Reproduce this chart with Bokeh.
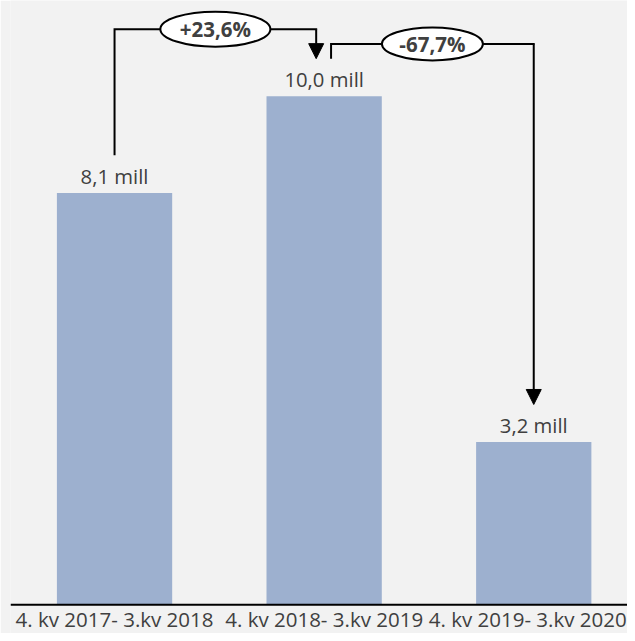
from bokeh.plotting import figure
from bokeh.models import Range1d, Arrow, NormalHead, Span
from bokeh.core.properties import value
from bokeh.embed import file_html
from bokeh.resources import INLINE

# ---- data ----
categories = ["4. kv 2017- 3.kv 2018", "4. kv 2018- 3.kv 2019", "4. kv 2019- 3.kv 2020"]
values = [8.1, 10.0, 3.2]
value_labels = ["8,1 mill", "10,0 mill", "3,2 mill"]
change_labels = ["+23,6%", "-67,7%"]

# ---- styles ----
BG = "#F2F2F2"
BAR = "#9DB0CF"
TXT = "#404040"
FONT = "Open Sans"
gap = 0.74                 # distance between a bar label and a connector end
rise = [1.32, 1.03]        # height of each connector above the taller bar
out_shift = [0.0, 0.033]   # horizontal shift of connector start
in_shift = [-0.038, 0.0]   # horizontal shift of connector end
ell_w = [110, 101]
ell_h = [35, 33]
cat_label_shift = [0, 0, -6]   # keep the last category label inside the picture

xs = list(range(len(values)))

p = figure(width=627, height=633, output_backend="svg", toolbar_location=None,
           x_range=Range1d(-0.4964, 2.4473), y_range=Range1d(-0.5633, 11.883),
           x_axis_location=None, y_axis_location=None,
           min_border_left=10, min_border_right=0, min_border_top=0, min_border_bottom=0)
p.background_fill_color = BG
p.border_fill_color = BG
p.outline_line_color = None
p.grid.visible = False

p.vbar(x=xs, top=values, width=0.55, fill_color=BAR, line_color=None)

# category axis: base line and category labels
p.add_layout(Span(location=0, dimension="width", line_color="black", line_width=2))
p.text(x=xs, y=[0] * len(xs), text=categories, x_offset=cat_label_shift,
       text_align="center", text_baseline="bottom",
       y_offset=28, text_font=value(FONT), text_font_size="20.5px", text_color=TXT)

p.text(x=xs, y=values, text=value_labels, text_align="center", text_baseline="bottom",
       y_offset=-3, text_font=value(FONT), text_font_size="20.3px", text_color=TXT)

# connectors
for i in range(len(values) - 1):
    x0 = xs[i] + out_shift[i]
    x1 = xs[i + 1] + in_shift[i]
    y0 = values[i] + gap
    ytop = max(values[i], values[i + 1]) + rise[i]
    y1 = values[i + 1] + gap
    p.line(x=[x0, x0, x1, x1], y=[y0, ytop, ytop, ytop - 0.01], line_color="black",
           line_width=2, line_join="miter")
    p.add_layout(Arrow(x_start=x1, y_start=ytop, x_end=x1, y_end=y1, line_color="black",
                       line_width=2,
                       end=NormalHead(size=15, fill_color="black", line_color="black", line_width=1)))
    xm = (x0 + x1) / 2
    p.ellipse(x=[xm], y=[ytop], width=ell_w[i], height=ell_h[i], width_units="screen",
              height_units="screen", fill_color="white", line_color="black", line_width=2)
    p.text(x=[xm], y=[ytop], text=[change_labels[i]], text_align="center",
           text_baseline="middle", text_font=value(FONT), text_font_size="20.5px",
           text_font_style="bold", text_color=TXT)

open("out.html", "w").write(file_html(p, INLINE))
